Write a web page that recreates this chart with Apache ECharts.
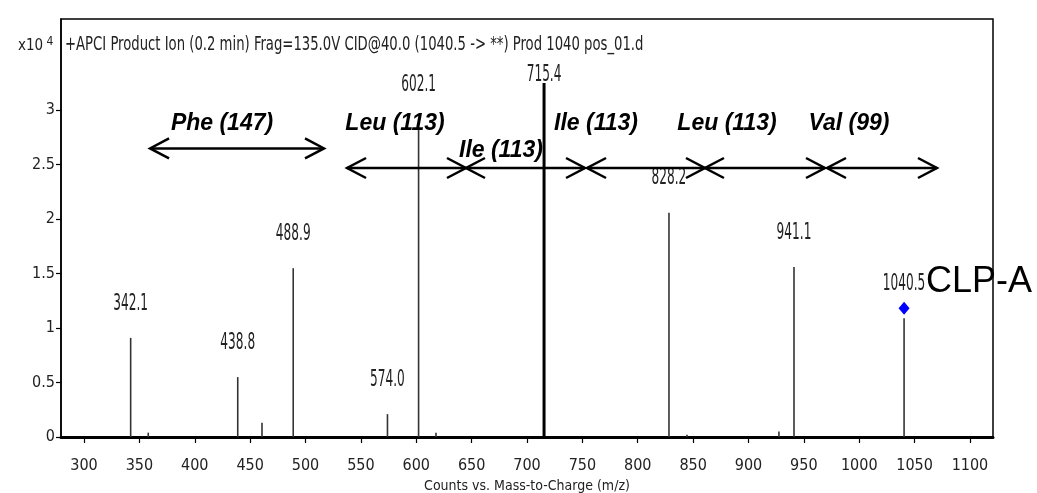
<!DOCTYPE html>
<html><head><meta charset="utf-8">
<script src="https://cdn.jsdelivr.net/npm/echarts@6/dist/echarts.min.js"></script>
<style>html,body{margin:0;padding:0;background:#fff}#c{width:1037px;height:493px}</style>
</head><body><div id="c"></div>
<script>
// ---- data ----
const peakMz        = [342.1, 358.0, 438.8, 460.7, 488.9, 574.0, 602.1, 617.8, 715.4, 828.2, 844.5, 927.5, 941.1, 1040.5];
const peakIntensity = [0.91,  0.04,  0.55,  0.13,  1.55,  0.21,  2.84,  0.04,  3.25,  2.06,  0.02,  0.05,  1.56,  1.09];
const peakLabels    = ['342.1','', '438.8','', '488.9','574.0','602.1','', '715.4','828.2','', '', '941.1','1040.5'];
const precursorMz = [1040.5];
const arrowStart = [359.6, 537.5, 644.9, 754.2, 860.7, 970.9];
const arrowEnd   = [516.7, 644.9, 752.4, 860.7, 969.1, 1070.2];
const arrowLevel = [2.65, 2.47, 2.47, 2.47, 2.47, 2.47];
const residueNames = ['Phe (147)', 'Leu (113)', 'Ile (113)', 'Ile (113)', 'Leu (113)', 'Val (99)'];
const residueLabelMz = [424.6, 580.8, 676.5, 762.3, 880.6, 990.7];
const residueLabelLevel = [2.88, 2.88, 2.63, 2.88, 2.88, 2.88];
const xTicks = [300, 350, 400, 450, 500, 550, 600, 650, 700, 750, 800, 850, 900, 950, 1000, 1050, 1100];
const yTicks = [0, 0.5, 1, 1.5, 2, 2.5, 3];
const titleText = '+APCI Product Ion (0.2 min) Frag=135.0V CID@40.0 (1040.5 -> **) Prod 1040 pos_01.d';
const xAxisTitle = 'Counts vs. Mass-to-Charge (m/z)';
const yScaleText = 'x10';
const yScaleExp = '4';
const compoundName = 'CLP-A';

// ---- styles ----
const NARROW = "'Liberation Sans Narrow','Arial Narrow','DejaVu Sans Condensed',sans-serif";
const labelGap = {'602.1': 42, '715.4': 8};
const stickWidth = {'715.4': 3};

const chart = echarts.init(document.getElementById('c'), null, {renderer: 'canvas'});

const option = {
  animation: false,
  backgroundColor: '#fff',
  grid: {left: 61, right: 44, top: 19, bottom: 56, show: true, borderColor: '#000', borderWidth: 1.5,
    containLabel: false, outerBoundsMode: 'none'},
  xAxis: {
    type: 'value', min: 279.2, max: 1120.8,
    axisLine: {show: true, onZero: false, lineStyle: {color: '#000', width: 3}},
    axisTick: {show: true, inside: false, length: 6, customValues: xTicks, lineStyle: {color: '#000', width: 1.2}},
    axisLabel: {show: true, customValues: xTicks, margin: 21, color: '#222', fontFamily: NARROW, fontSize: 16,
      formatter: v => String(v)},
    splitLine: {show: false},
    name: xAxisTitle, nameLocation: 'middle', nameGap: 40,
    nameTextStyle: {color: '#222', fontFamily: NARROW, fontSize: 14}
  },
  yAxis: {
    type: 'value', min: 0, max: 3.838,
    axisLine: {show: true, lineStyle: {color: '#000', width: 1.5}},
    axisTick: {show: true, inside: false, length: 5, customValues: yTicks, lineStyle: {color: '#000', width: 1.2}},
    axisLabel: {show: true, customValues: yTicks, margin: 6, color: '#222', fontFamily: NARROW, fontSize: 16,
      formatter: v => String(v)},
    splitLine: {show: false}
  },
  graphic: [
    {type: 'text', left: 18, top: 36, style: {
      text: '{a|' + yScaleText + '}{b| ' + yScaleExp + '}',
      rich: {a: {fontFamily: NARROW, fontSize: 15, fill: '#222', verticalAlign: 'bottom'},
             b: {fontFamily: NARROW, fontSize: 12, fill: '#222', verticalAlign: 'top', padding: [0, 0, 6, 0]}}}},
    {type: 'text', x: 65, y: 45, scaleY: 1.3, style: {text: titleText, fontFamily: NARROW, fontSize: 14.7, fill: '#222',
      verticalAlign: 'middle'}},
    {type: 'text', left: 926, top: 264, z: 100, style: {text: compoundName, fontFamily: "'Liberation Sans',Arial,sans-serif", fontSize: 36, fill: '#000'}}
  ],
  series: [
    {
      type: 'custom', name: 'peaks',
      coordinateSystem: 'cartesian2d',
      encode: {x: 0, y: 1},
      data: peakMz.map((m, i) => [m, peakIntensity[i]]),
      clip: false,
      z: 3,
      renderItem: (params, api) => {
        const i = params.dataIndex;
        const x = api.value(0), h = api.value(1);
        const p0 = api.coord([x, 0]);
        const p1 = api.coord([x, h]);
        const lab = peakLabels[i];
        const children = [{
          type: 'line',
          shape: {x1: p0[0], y1: p0[1], x2: p1[0], y2: p1[1]},
          style: {stroke: lab === '715.4' ? '#000' : '#333', lineWidth: stickWidth[lab] || 1.6}
        }];
        if (lab) {
          children.push({
            type: 'text', x: p1[0], y: p1[1] - (labelGap[lab] !== undefined ? labelGap[lab] : 34),
            scaleY: 1.65,
            style: {text: lab, fontFamily: NARROW, fontSize: 13.5, fill: '#222', align: 'center', verticalAlign: 'middle'}
          });
        }
        return {type: 'group', children};
      }
    },
    {
      type: 'scatter', name: 'precursor',
      data: precursorMz.map(m => [m, peakIntensity[peakMz.indexOf(m)]]),
      symbol: 'diamond', symbolSize: [11, 13], symbolOffset: [0, -10],
      itemStyle: {color: '#0000ff', opacity: 1}, z: 5
    },
    {
      type: 'custom', name: 'residue arrows',
      coordinateSystem: 'cartesian2d',
      encode: {x: [0, 1], y: 2},
      data: arrowStart.map((s, i) => [s, arrowEnd[i], arrowLevel[i]]),
      z: 4,
      renderItem: (params, api) => {
        const a = api.coord([api.value(0), api.value(2)]);
        const b = api.coord([api.value(1), api.value(2)]);
        const dx = 19, dy = 10;
        const st = {stroke: '#000', lineWidth: 2.5, fill: null};
        return {type: 'group', children: [
          {type: 'line', shape: {x1: a[0], y1: a[1], x2: b[0], y2: b[1]}, style: st},
          {type: 'polyline', shape: {points: [[a[0] + dx, a[1] - dy], [a[0], a[1]], [a[0] + dx, a[1] + dy]]}, style: st},
          {type: 'polyline', shape: {points: [[b[0] - dx, b[1] - dy], [b[0], b[1]], [b[0] - dx, b[1] + dy]]}, style: st}
        ]};
      }
    },
    {
      type: 'custom', name: 'residue names',
      coordinateSystem: 'cartesian2d',
      encode: {x: 0, y: 1},
      data: residueLabelMz.map((m, i) => [m, residueLabelLevel[i]]),
      z: 6,
      renderItem: (params, api) => {
        const p = api.coord([api.value(0), api.value(1)]);
        return {type: 'text', x: p[0], y: p[1], style: {
          text: residueNames[params.dataIndex], fontFamily: "'Liberation Sans',Arial,sans-serif",
          fontStyle: 'italic', fontWeight: 'bold', fontSize: 23, fill: '#000', align: 'center', verticalAlign: 'middle'}};
      }
    }
  ]
};
chart.setOption(option);
</script>
</body></html>
